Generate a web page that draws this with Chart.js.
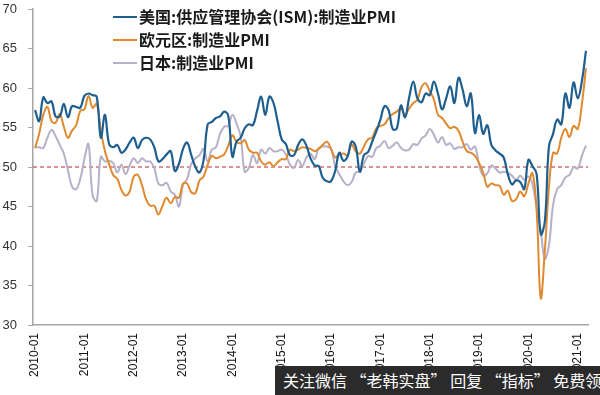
<!DOCTYPE html>
<html>
<head>
<meta charset="utf-8">
<script src="https://cdn.jsdelivr.net/npm/chart.js@4/dist/chart.umd.min.js"></script>
<style>
    html, body { margin: 0; padding: 0; background: #fff; }
    #wrap { position: relative; width: 600px; height: 395px; overflow: hidden; }
    #banner {
        position: absolute; left: 275px; top: 366px; width: 325px; height: 29px;
        background: #2b2b2b; color: #fff; font: 16px "Noto Sans CJK SC", sans-serif;
        line-height: 29px; white-space: nowrap; overflow: hidden; padding-left: 8px; box-sizing: border-box;
    }
</style>
</head>
<body>
<div id="wrap">
    <canvas id="chart" width="600" height="395"></canvas>
    <div id="banner">关注微信 “老韩实盘” 回复 “指标” 免费领取</div>
</div>
<script>
// месяцы 2010-01 .. 2021-03
const years = [2010, 2011, 2012, 2013, 2014, 2015, 2016, 2017, 2018, 2019, 2020, 2021];
const lastMonth = 3;
const refLevel = 50;

const seriesNames = ['美国:供应管理协会(ISM):制造业PMI', '欧元区:制造业PMI', '日本:制造业PMI'];

const usISM = [
    57.2, 55.8, 58.8, 58.1, 58.3, 56.4, 56.4, 58.0, 56.3, 57.7, 57.6, 57.5,
    59.0, 59.3, 59.1, 58.9, 53.7, 56.6, 52.9, 52.5, 52.8, 51.8, 52.2, 53.1,
    53.7, 52.4, 53.4, 53.7, 53.5, 52.5, 50.7, 51.0, 51.6, 52.0, 49.5, 50.4,
    52.3, 53.1, 51.5, 50.0, 49.3, 50.9, 55.4, 55.7, 56.2, 56.4, 57.0, 56.5,
    51.3, 53.2, 53.7, 54.9, 55.4, 55.3, 57.1, 58.9, 56.6, 58.9, 58.1, 55.8,
    53.5, 52.9, 51.5, 51.5, 52.8, 53.5, 52.7, 51.1, 50.2, 50.1, 48.6, 48.2,
    48.2, 49.5, 51.8, 50.8, 51.3, 53.2, 52.6, 49.4, 51.5, 51.9, 53.2, 54.5,
    56.0, 57.7, 57.2, 54.8, 54.9, 57.8, 56.3, 58.8, 60.8, 58.7, 58.2, 59.3,
    59.1, 60.8, 59.3, 57.3, 58.7, 60.2, 58.1, 61.3, 59.8, 57.7, 59.3, 54.3,
    56.6, 54.2, 55.3, 52.8, 52.1, 51.7, 51.2, 49.1, 47.8, 48.3, 48.1, 47.2,
    50.9, 50.1, 49.1, 41.5, 43.1, 52.6, 54.2, 56.0, 55.4, 59.3, 57.5, 60.7,
    58.7, 60.8, 64.7
];

const euroPMI = [
    52.4, 54.2, 56.6, 57.6, 55.8, 55.6, 56.7, 55.1, 53.7, 54.6, 55.3, 57.1,
    57.3, 59.0, 57.5, 58.0, 54.6, 52.0, 50.4, 49.0, 48.5, 47.1, 46.4, 46.9,
    48.8, 49.0, 47.7, 45.9, 45.1, 45.1, 44.0, 45.1, 46.1, 45.4, 46.2, 46.1,
    47.9, 47.9, 46.8, 46.7, 48.3, 48.8, 50.3, 51.4, 51.1, 51.3, 51.6, 52.7,
    54.0, 53.2, 53.0, 53.4, 52.2, 51.8, 51.8, 50.7, 50.3, 50.6, 50.1, 50.6,
    51.0, 51.0, 52.2, 52.0, 52.2, 52.5, 52.4, 52.3, 52.0, 52.3, 52.8, 53.2,
    52.3, 51.2, 51.6, 51.7, 51.5, 52.8, 52.0, 51.7, 52.6, 53.5, 53.7, 54.9,
    55.2, 55.4, 56.2, 56.7, 57.0, 57.4, 56.6, 57.4, 58.1, 58.5, 60.1, 60.6,
    59.6, 58.6, 56.6, 56.2, 55.5, 54.9, 55.1, 54.6, 53.2, 52.0, 51.8, 51.4,
    50.5, 49.3, 47.5, 47.9, 47.7, 47.6, 46.5, 47.0, 45.7, 45.9, 46.9, 46.3,
    47.9, 49.2, 44.5, 33.4, 39.4, 47.4, 51.8, 51.7, 53.7, 54.8, 53.8, 55.2,
    54.8, 57.9, 62.5
];

const japanPMI = [
    52.5, 52.5, 52.4, 53.7, 54.7, 53.9, 52.8, 51.7, 49.6, 47.5, 47.2, 48.5,
    51.0, 52.9, 46.4, 45.7, 51.3, 50.7, 50.8, 50.5, 49.3, 50.3, 49.1, 50.2,
    51.1, 50.5, 51.1, 50.7, 50.7, 49.9, 47.9, 47.7, 48.0, 46.9, 46.5, 45.0,
    47.7, 48.5, 50.4, 51.1, 51.5, 52.3, 50.7, 52.2, 52.5, 54.2, 55.1, 55.2,
    56.6, 55.5, 53.9, 49.4, 49.9, 51.5, 50.5, 52.2, 51.7, 52.4, 52.0, 52.0,
    52.2, 51.6, 50.3, 49.9, 50.9, 50.1, 51.2, 51.7, 51.0, 52.4, 52.6, 52.6,
    52.3, 50.1, 49.1, 48.2, 47.7, 48.1, 49.3, 49.5, 50.4, 51.4, 51.3, 52.4,
    52.7, 53.3, 52.4, 52.7, 53.1, 52.4, 52.1, 52.2, 52.9, 52.8, 53.6, 54.0,
    54.8, 54.1, 53.1, 53.8, 52.8, 53.0, 52.3, 52.5, 52.5, 52.9, 52.2, 52.6,
    50.3, 48.9, 49.2, 50.2, 49.8, 49.3, 49.4, 49.3, 48.9, 48.4, 48.9, 48.4,
    48.8, 47.8, 44.8, 41.9, 38.4, 40.1, 45.2, 47.2, 47.7, 48.7, 49.0, 50.0,
    49.8, 51.4, 52.7
];

const lineColors = ['#1f5f90', '#df8a2f', '#b8b0c8'];

const labels = [];
years.forEach(y => {
    for (let m = 1; m <= 12; m++) {
        if (y === years[years.length - 1] && m > lastMonth) break;
        labels.push(y + '-' + String(m).padStart(2, '0'));
    }
});

function isYearStart(i) {
    return labels[i] !== undefined && labels[i].endsWith('-01');
}

// пунктир на уровне 50
const refLinePlugin = {
    id: 'refLine',
    beforeDatasetsDraw(chart) {
        const ctx = chart.ctx;
        const area = chart.chartArea;
        const y = chart.scales.y.getPixelForValue(refLevel);
        ctx.save();
        ctx.setLineDash([4, 3]);
        ctx.strokeStyle = '#b02a2a';
        ctx.lineWidth = 1;
        ctx.beginPath();
        ctx.moveTo(area.left, y);
        ctx.lineTo(area.right, y);
        ctx.stroke();
        ctx.restore();
    }
};

// легенда внутри области графика
const insideLegend = {
    id: 'insideLegend',
    afterDraw(chart) {
        const ctx = chart.ctx;
        ctx.save();
        seriesNames.forEach((name, i) => {
            const y = 17 + i * 23;
            ctx.strokeStyle = lineColors[i];
            ctx.lineWidth = 2;
            ctx.beginPath();
            ctx.moveTo(113, y);
            ctx.lineTo(137, y);
            ctx.stroke();
            ctx.fillStyle = '#1a1a1a';
            ctx.font = 'bold 16px "Noto Sans CJK SC"';
            ctx.textBaseline = 'middle';
            ctx.fillText(name, 139, y);
        });
        ctx.restore();
    }
};

function createChart() {
    const ctx = document.getElementById('chart').getContext('2d');
    new Chart(ctx, {
        type: 'line',
        data: {
            labels: labels,
            datasets: [
                { label: seriesNames[0], data: usISM, borderColor: lineColors[0], borderWidth: 2.2, order: 0 },
                { label: seriesNames[1], data: euroPMI, borderColor: lineColors[1], borderWidth: 2, order: 1 },
                { label: seriesNames[2], data: japanPMI, borderColor: lineColors[2], borderWidth: 2, order: 2 },
            ],
        },
        options: {
            responsive: false,
            animation: false,
            elements: {
                point: { radius: 0 },
                line: { tension: 0.4, fill: false },
            },
            layout: { padding: { top: 9, right: 12, left: 0, bottom: 0 } },
            plugins: {
                legend: { display: false },
                tooltip: { enabled: false },
            },
            scales: {
                x: {
                    offset: true,
                    grid: {
                        offset: true,
                        drawOnChartArea: false,
                        tickLength: 5,
                        color: c => isYearStart(c.index) ? '#a6a6a6' : 'rgba(0,0,0,0)',
                    },
                    border: { color: '#a6a6a6', width: 1.5 },
                    ticks: {
                        autoSkip: false,
                        maxRotation: 90,
                        minRotation: 90,
                        padding: 3,
                        color: '#111',
                        font: { size: 12, family: 'Liberation Sans' },
                        callback: (v, i) => isYearStart(i) ? labels[i] : null,
                    },
                    afterFit: s => {
                        s.height = 70;
                        s.paddingTop = 0;
                        s.paddingBottom = 0;
                    },
                },
                y: {
                    min: 30,
                    max: 70,
                    grid: { drawOnChartArea: false, tickLength: 5, color: '#a6a6a6' },
                    border: { color: '#a6a6a6', width: 1.5 },
                    ticks: {
                        stepSize: 5,
                        padding: 11,
                        color: '#333',
                        font: { size: 13, family: 'Liberation Sans' },
                    },
                    afterFit: s => {
                        s.width = 33;
                        s.paddingTop = 0;
                        s.paddingBottom = 0;
                    },
                },
            },
        },
        plugins: [refLinePlugin, insideLegend],
    });
}

document.addEventListener('DOMContentLoaded', createChart);
</script>
</body>
</html>
